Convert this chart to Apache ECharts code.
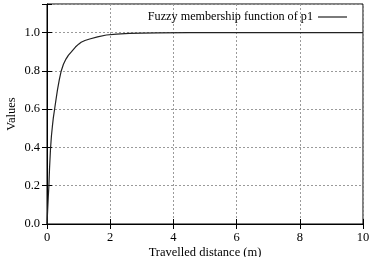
<!DOCTYPE html>
<html>
<head>
<meta charset="utf-8">
<script src="https://cdn.jsdelivr.net/npm/echarts@6/dist/echarts.min.js"></script>
<style>
  html, body { margin: 0; padding: 0; background: #fff; }
  #chart { width: 370px; height: 257px; }
</style>
</head>
<body>
<div id="chart"></div>
<script>
// values
const distance = [0, 0.02, 0.04, 0.06, 0.08, 0.11, 0.14, 0.17, 0.2, 0.24, 0.28, 0.33, 0.39, 0.45, 0.52, 0.6, 0.68, 0.77, 0.9, 1.0, 1.08, 1.2, 1.35, 1.6, 1.88, 2.2, 2.6, 3.0, 3.5, 4.5, 6, 8, 10]
const membership = [0, 0.07, 0.14, 0.2, 0.29, 0.39, 0.46, 0.51, 0.555, 0.6, 0.645, 0.7, 0.755, 0.8, 0.835, 0.862, 0.883, 0.9, 0.925, 0.94, 0.95, 0.959, 0.967, 0.978, 0.988, 0.993, 0.996, 0.998, 0.999, 1, 1, 1, 1]
const seriesName = 'Fuzzy membership function of p1'

const font = 'Liberation Serif'
const fontSize = 12.5
const points = distance.map((d, i) => [d, membership[i]])

const chart = echarts.init(document.getElementById('chart'), null, { renderer: 'canvas' })

const gridLine = { show: true, lineStyle: { color: '#9a9a9a', type: [2, 2], width: 1 } }
const tick = { show: true, inside: true, length: 5, lineStyle: { color: '#000' } }

chart.setOption({
  backgroundColor: '#fff',
  animation: false,
  textStyle: { fontFamily: font },
  grid: {
    left: 47, right: 7, top: 4, bottom: 33,
    outerBoundsMode: 'none',
    containLabel: false,
    show: true, borderColor: '#000', borderWidth: 1, backgroundColor: 'transparent',
  },
  legend: {
    data: [seriesName],
    top: 6, right: 18,
    align: 'right',
    icon: 'rect',
    itemWidth: 29, itemHeight: 1.2,
    itemGap: 4,
    textStyle: { fontFamily: font, fontSize: 12.2, color: '#000' },
  },
  xAxis: [
    {
      type: 'value', min: 0, max: 10, interval: 2,
      name: 'Travelled distance (m)', nameLocation: 'middle', nameGap: 22,
      nameMoveOverlap: false,
      nameTextStyle: { fontFamily: font, fontSize: fontSize, color: '#000' },
      axisLine: { show: true, lineStyle: { color: '#000' } },
      axisTick: tick,
      axisLabel: { color: '#000', fontSize: fontSize, fontFamily: font, margin: 7 },
      splitLine: gridLine,
    },
    {
      type: 'value', min: 0, max: 10, interval: 2, position: 'top',
      axisLine: { show: false }, axisTick: tick, axisLabel: { show: false }, splitLine: { show: false },
    },
  ],
  yAxis: [
    {
      type: 'value', min: 0, max: 1.15, interval: 0.2,
      name: 'Values', nameLocation: 'middle', nameGap: 29,
      nameMoveOverlap: false,
      nameTextStyle: { fontFamily: font, fontSize: fontSize, color: '#000' },
      axisLine: { show: true, lineStyle: { color: '#000' } },
      axisTick: tick,
      axisLabel: {
        color: '#000', fontSize: fontSize, fontFamily: font, margin: 7,
        formatter: v => (v > 1.05 ? '' : v.toFixed(1)),
      },
      splitLine: gridLine,
    },
    {
      type: 'value', min: 0, max: 1.15, interval: 0.2, position: 'right',
      axisLine: { show: false }, axisTick: tick, axisLabel: { show: false }, splitLine: { show: false },
    },
  ],
  series: [
    {
      name: seriesName,
      type: 'line',
      data: points,
      showSymbol: false,
      smooth: false,
      lineStyle: { color: '#222', width: 1.2 },
      itemStyle: { color: '#222' },
    },
  ],
})
</script>
</body>
</html>
